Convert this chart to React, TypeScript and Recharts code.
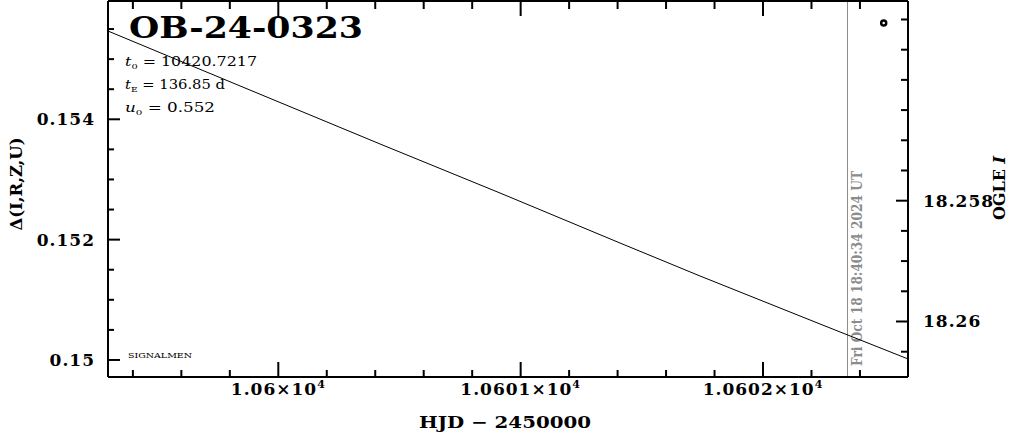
import React from 'react';
import { ComposedChart, Line, Scatter, XAxis, YAxis, ReferenceLine, Customized } from 'recharts';

// ---- data ----
const modelHjd = [10599.2973, 10599.8131, 10600.4196, 10600.9148, 10601.4099, 10601.74, 10602.2352, 10602.5983];
const modelDelta = [0.155467, 0.154603, 0.15359, 0.152775, 0.151944, 0.151396, 0.150598, 0.150017];
const obsHjd = [10602.498];
const obsMag = [18.25506];

const xDomain = [10599.2973, 10602.5983];
const leftDomain = [0.149717, 0.155966];
const rightDomain = [18.254694, 18.260919];

const xTicks = [10599.4, 10599.6, 10599.8, 10600, 10600.2, 10600.4, 10600.6, 10600.8, 10601, 10601.2, 10601.4, 10601.6, 10601.8, 10602, 10602.2, 10602.4];
const xMajor = [10600, 10601, 10602];
const xMajorLabels = ['1.06', '1.0601', '1.0602'];
const xExponent = '4';

const leftTicks = [0.15, 0.1505, 0.151, 0.1515, 0.152, 0.1525, 0.153, 0.1535, 0.154, 0.1545, 0.155, 0.1555];
const leftMajor = [0.15, 0.152, 0.154];
const leftMajorLabels = ['0.15', '0.152', '0.154'];

const rightTicks = [18.255, 18.2555, 18.256, 18.2565, 18.257, 18.2575, 18.258, 18.2585, 18.259, 18.2595, 18.26, 18.2605];
const rightMajor = [18.258, 18.26];
const rightMajorLabels = ['18.258', '18.26'];

const nowHjd = 10602.3487;
const nowLabel = 'Fri Oct 18 18:40:34 2024 UT';

const eventName = 'OB-24-0323';
const paramT0 = '10420.7217';
const paramTE = '136.85 d';
const paramU0 = '0.552';
const credit = 'SIGNALMEN';

const xLabel = 'HJD − 2450000';
const leftLabel = 'Δ(I,R,Z,U)';
const rightLabelMain = 'OGLE ';
const rightLabelBand = 'I';

const modelData = modelHjd.map((h, i) => ({ hjd: h, delta: modelDelta[i] }));
const obsData = obsHjd.map((h, i) => ({ hjd: h, mag: obsMag[i] }));

const FONT = '"DejaVu Serif", serif';
const idxOf = (arr: number[], v: number) => arr.findIndex((m) => Math.abs(m - v) < 1e-7);

const BottomTick = (props: any) => {
  const { x, y, payload } = props;
  const i = idxOf(xMajor, payload.value);
  const major = i >= 0;
  return (
    <g>
      <line x1={x} x2={x} y1={y} y2={y - (major ? 15 : 7)} stroke="#000" strokeWidth={2} />
      {major && (
        <text x={x} y={y + 18} textAnchor="middle" fontFamily={FONT} fontWeight="bold" fontSize={17} letterSpacing={1} fill="#000">
          {xMajorLabels[i]}×10<tspan dy={-7} fontSize={11}>{xExponent}</tspan>
        </text>
      )}
    </g>
  );
};

const TopTick = (props: any) => {
  const { x, y, payload } = props;
  const major = idxOf(xMajor, payload.value) >= 0;
  return <line x1={x} x2={x} y1={y} y2={y + (major ? 15 : 8)} stroke="#000" strokeWidth={2} />;
};

const LeftTick = (props: any) => {
  const { x, y, payload } = props;
  const i = idxOf(leftMajor, payload.value);
  const major = i >= 0;
  return (
    <g>
      <line x1={x} x2={x + (major ? 12 : 6)} y1={y} y2={y} stroke="#000" strokeWidth={2} />
      {major && (
        <text x={x - 13} y={y + 6} textAnchor="end" fontFamily={FONT} fontWeight="bold" fontSize={17} letterSpacing={1} fill="#000">
          {leftMajorLabels[i]}
        </text>
      )}
    </g>
  );
};

const RightTick = (props: any) => {
  const { x, y, payload } = props;
  const i = idxOf(rightMajor, payload.value);
  const major = i >= 0;
  return (
    <g>
      <line x1={x} x2={x - (major ? 12 : 7)} y1={y} y2={y} stroke="#000" strokeWidth={2} />
      {major && (
        <text x={x + 15} y={y + 6} textAnchor="start" fontFamily={FONT} fontWeight="bold" fontSize={17} letterSpacing={1} fill="#000">
          {rightMajorLabels[i]}
        </text>
      )}
    </g>
  );
};

const ObsDot = (props: any) => {
  const { cx, cy } = props;
  return <circle cx={cx} cy={cy} r={2.5} fill="#fff" stroke="#000" strokeWidth={2.5} />;
};

const NowLabel = (props: any) => {
  const vb = props.viewBox || {};
  const x = vb.x + 14.5;
  const yb = vb.y + vb.height - 11;
  return (
    <text
      x={x}
      y={yb}
      transform={`rotate(-90 ${x} ${yb})`}
      textAnchor="start"
      fontFamily={FONT}
      fontWeight="bold"
      fontSize={15}
      fill="#8c8c8c"
      textLength={195}
      lengthAdjust="spacingAndGlyphs"
    >
      {nowLabel}
    </text>
  );
};

const Overlay = () => (
  <g>
    <text x={129} y={38} fontFamily={FONT} fontWeight="bold" fontSize={29} fill="#000" textLength={234} lengthAdjust="spacingAndGlyphs">
      {eventName}
    </text>
    <text x={125} y={66} fontFamily={FONT} fontSize={13} fill="#000" textLength={132} lengthAdjust="spacingAndGlyphs">
      <tspan fontStyle="italic">t</tspan>
      <tspan fontSize={8} dy={3}>0</tspan>
      <tspan dy={-3}>{` = ${paramT0}`}</tspan>
    </text>
    <text x={125} y={89} fontFamily={FONT} fontSize={13} fill="#000" textLength={100} lengthAdjust="spacingAndGlyphs">
      <tspan fontStyle="italic">t</tspan>
      <tspan fontSize={8} dy={3}>E</tspan>
      <tspan dy={-3}>{` = ${paramTE}`}</tspan>
    </text>
    <text x={125} y={112} fontFamily={FONT} fontSize={13} fill="#000" textLength={90} lengthAdjust="spacingAndGlyphs">
      <tspan fontStyle="italic">u</tspan>
      <tspan fontSize={8} dy={3}>0</tspan>
      <tspan dy={-3}>{` = ${paramU0}`}</tspan>
    </text>
    <text x={128} y={358} fontFamily={FONT} fontSize={8} fill="#000" textLength={64} lengthAdjust="spacingAndGlyphs">
      {credit}
    </text>
    <text x={505} y={428} textAnchor="middle" fontFamily={FONT} fontWeight="bold" fontSize={17} fill="#000" textLength={172} lengthAdjust="spacingAndGlyphs" style={{ whiteSpace: 'pre' }}>
      {xLabel}
    </text>
    <text x={22} y={184} transform="rotate(-90 22 184)" textAnchor="middle" fontFamily={FONT} fontWeight="bold" fontSize={17} fill="#000" textLength={93} lengthAdjust="spacingAndGlyphs">
      {leftLabel}
    </text>
    <text x={1005} y={188} transform="rotate(-90 1005 188)" textAnchor="middle" fontFamily={FONT} fontWeight="bold" fontSize={16} fill="#000">
      {rightLabelMain}
      <tspan fontStyle="italic">{rightLabelBand}</tspan>
    </text>
  </g>
);

export default function App() {
  return (
    <div style={{ position: 'absolute', left: 0, top: 0, width: 1011, height: 434, background: '#fff' }}>
      <ComposedChart width={1011} height={434} margin={{ top: 0, right: 0, bottom: 0, left: 0 }}>
        <XAxis
          xAxisId="bottom"
          dataKey="hjd"
          type="number"
          orientation="bottom"
          domain={xDomain}
          allowDataOverflow
          ticks={xTicks}
          interval={0}
          height={57}
          tickSize={0}
          tickMargin={0}
          tickLine={false}
          axisLine={{ stroke: '#000', strokeWidth: 2 }}
          tick={<BottomTick />}
        />
        <XAxis
          xAxisId="top"
          dataKey="hjd"
          type="number"
          orientation="top"
          domain={xDomain}
          allowDataOverflow
          ticks={xTicks}
          interval={0}
          height={1}
          tickSize={0}
          tickMargin={0}
          tickLine={false}
          axisLine={{ stroke: '#000', strokeWidth: 2 }}
          tick={<TopTick />}
        />
        <YAxis
          yAxisId="left"
          type="number"
          orientation="left"
          domain={leftDomain}
          allowDataOverflow
          ticks={leftTicks}
          interval={0}
          width={108}
          tickSize={0}
          tickMargin={0}
          tickLine={false}
          axisLine={{ stroke: '#000', strokeWidth: 2 }}
          tick={<LeftTick />}
        />
        <YAxis
          yAxisId="right"
          type="number"
          orientation="right"
          domain={rightDomain}
          reversed
          allowDataOverflow
          ticks={rightTicks}
          interval={0}
          width={103}
          tickSize={0}
          tickMargin={0}
          tickLine={false}
          axisLine={{ stroke: '#000', strokeWidth: 2 }}
          tick={<RightTick />}
        />
        <ReferenceLine
          x={nowHjd}
          xAxisId="bottom"
          yAxisId="left"
          stroke="#8c8c8c"
          strokeWidth={1}
          label={<NowLabel />}
        />
        <Line
          data={modelData}
          xAxisId="bottom"
          yAxisId="left"
          dataKey="delta"
          type="linear"
          stroke="#000"
          strokeWidth={1}
          dot={false}
          activeDot={false}
          isAnimationActive={false}
        />
        <Scatter
          data={obsData}
          xAxisId="bottom"
          yAxisId="right"
          dataKey="mag"
          shape={<ObsDot />}
          isAnimationActive={false}
        />
        <Customized component={<Overlay />} />
      </ComposedChart>
    </div>
  );
}
